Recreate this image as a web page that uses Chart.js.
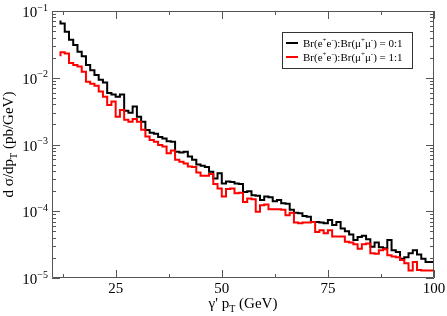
<!DOCTYPE html>
<html>
<head>
<meta charset="utf-8">
<script src="https://cdn.jsdelivr.net/npm/chart.js@4/dist/chart.umd.min.js"></script>
<style>
html, body { margin: 0; padding: 0; background: #fff; }
</style>
</head>
<body>
<canvas id="chart" width="447" height="316"></canvas>
<script>
// histogram bins: 1 GeV wide, first bin starts at 12 GeV
const binLowEdges = [];
for (let e = 12; e < 100; e++) {
    binLowEdges.push(e);
}
const lastBinHighEdge = 100;

// Br(e+e-):Br(mu+mu-) = 0:1
const blackValues = [
    7.2e-2, 6.5e-2, 4.9e-2, 3.7e-2, 3.1e-2, 2.45e-2, 2.1e-2, 1.55e-2, 1.3e-2, 1.1e-2,
    9.3e-3, 8.5e-3, 5.9e-3, 5.6e-3, 5.2e-3, 5.6e-3, 3.2e-3, 3.0e-3, 3.7e-3, 2.6e-3,
    2.2e-3, 1.65e-3, 1.5e-3, 1.45e-3, 1.3e-3, 1.23e-3, 1.12e-3, 1.1e-3, 7.8e-4, 7.6e-4,
    7.8e-4, 6.6e-4, 5.9e-4, 5.0e-4, 4.8e-4, 4.6e-4, 3.9e-4, 3.1e-4, 3.7e-4, 2.6e-4,
    2.8e-4, 2.75e-4, 2.6e-4, 2.55e-4, 1.95e-4, 2.0e-4, 1.74e-4, 1.7e-4, 1.48e-4, 1.66e-4,
    1.62e-4, 1.41e-4, 1.48e-4, 1.32e-4, 1.29e-4, 1.05e-4, 9.5e-5, 9.3e-5, 8.5e-5, 8.3e-5,
    6.9e-5, 6.9e-5, 6.8e-5, 6.6e-5, 7.4e-5, 6.2e-5, 6.9e-5, 5.5e-5, 5.0e-5, 4.5e-5,
    3.7e-5, 4.1e-5, 4.3e-5, 3.8e-5, 2.95e-5, 3.4e-5, 2.9e-5, 2.8e-5, 3.7e-5, 2.6e-5,
    2.45e-5, 1.95e-5, 2.05e-5, 2.35e-5, 2.6e-5, 2.25e-5, 1.95e-5, 1.74e-5
];

// Br(e+e-):Br(mu+mu-) = 1:1
const redValues = [
    2.1e-2, 2.4e-2, 2.3e-2, 1.66e-2, 1.55e-2, 1.48e-2, 1.23e-2, 8.7e-3, 8.1e-3, 7.6e-3,
    6.2e-3, 5.2e-3, 3.9e-3, 4.4e-3, 2.6e-3, 3.3e-3, 2.35e-3, 2.2e-3, 2.4e-3, 2.2e-3,
    1.66e-3, 1.32e-3, 1.17e-3, 1.1e-3, 9.8e-4, 9.3e-4, 7.4e-4, 8.1e-4, 5.9e-4, 5.5e-4,
    5.2e-4, 4.7e-4, 4.6e-4, 3.8e-4, 3.4e-4, 3.4e-4, 3.6e-4, 2.55e-4, 2.2e-4, 1.66e-4,
    2.15e-4, 2.2e-4, 1.86e-4, 1.9e-4, 1.38e-4, 1.55e-4, 1.51e-4, 9.8e-5, 1.23e-4, 1.26e-4,
    1.07e-4, 1.07e-4, 1.07e-4, 1.05e-4, 8.7e-5, 9.5e-5, 6.8e-5, 6.6e-5, 6.8e-5, 6.8e-5,
    6.9e-5, 4.9e-5, 5.2e-5, 4.7e-5, 5.2e-5, 4.2e-5, 4.2e-5, 4.2e-5, 3.5e-5, 3.4e-5,
    3.2e-5, 2.75e-5, 3.2e-5, 3.3e-5, 2.35e-5, 2.3e-5, 2.6e-5, 2.7e-5, 2.2e-5, 2.1e-5,
    2.05e-5, 1.86e-5, 1.66e-5, 1.29e-5, 1.74e-5, 1.32e-5, 1.29e-5, 1.29e-5
];

const xMajorTicks = [25, 50, 75, 100];
const xMinorTicks = [12.5, 37.5, 62.5, 87.5];
const yExponents = [-5, -4, -3, -2, -1];

const legendRatios = ["0:1", "1:1"];
const seriesColors = ["#000000", "#ff0000"];

const FONT = '"Liberation Serif", "DejaVu Serif", serif';

function toSteps(values) {
    const pts = values.map((v, i) => ({ x: binLowEdges[i], y: v }));
    pts.push({ x: lastBinHighEdge, y: values[values.length - 1] });
    return pts;
}

// draws text made of pieces, some raised or lowered
function richText(ctx, x, y, parts, size, align) {
    const small = Math.round(size * 0.68);
    let total = 0;
    parts.forEach((p) => {
        ctx.font = (p.s ? small : size) + "px " + FONT;
        p.w = ctx.measureText(p.t).width;
        total += p.w;
    });
    let cx = x;
    if (align === "center") cx = x - total / 2;
    if (align === "right") cx = x - total;
    ctx.textAlign = "left";
    ctx.textBaseline = "alphabetic";
    parts.forEach((p) => {
        ctx.font = (p.s ? small : size) + "px " + FONT;
        let dy = 0;
        if (p.s === "sup") dy = -size * 0.42;
        if (p.s === "sub") dy = size * 0.25;
        ctx.fillText(p.t, cx, y + dy);
        cx += p.w;
    });
}

const framePlugin = {
    id: "frame",
    afterDraw(chart) {
        const ctx = chart.ctx;
        const a = chart.chartArea;
        const xs = chart.scales.x;
        const ys = chart.scales.y;
        ctx.save();

        /* frame and ticks */
        ctx.strokeStyle = "#555";
        ctx.lineWidth = 1;
        ctx.beginPath();
        ctx.rect(a.left + 0.5, a.top + 0.5, a.right - a.left - 1, a.bottom - a.top - 1);
        ctx.stroke();

        ctx.beginPath();
        xMajorTicks.concat(xMinorTicks).forEach((v) => {
            const len = xMajorTicks.includes(v) ? 8 : 4;
            const px = Math.round(xs.getPixelForValue(v)) + 0.5;
            ctx.moveTo(px, a.bottom);
            ctx.lineTo(px, a.bottom - len);
            ctx.moveTo(px, a.top);
            ctx.lineTo(px, a.top + len);
        });
        yExponents.forEach((e) => {
            for (let m = 1; m < 10; m++) {
                if (e === -1 && m > 1) break;
                const py = Math.round(ys.getPixelForValue(m * Math.pow(10, e))) + 0.5;
                const len = m === 1 ? 8 : 4;
                ctx.moveTo(a.left, py);
                ctx.lineTo(a.left + len, py);
                ctx.moveTo(a.right, py);
                ctx.lineTo(a.right - len, py);
            }
        });
        ctx.stroke();

        /* tick labels */
        ctx.fillStyle = "#000";
        xMajorTicks.forEach((v) => {
            richText(ctx, xs.getPixelForValue(v), a.bottom + 15, [{ t: String(v) }], 15, "center");
        });
        yExponents.forEach((e) => {
            const py = ys.getPixelForValue(Math.pow(10, e));
            richText(ctx, a.left - 4, py + 6, [{ t: "10" }, { t: String(e).replace("-", "\u2212"), s: "sup" }], 15, "right");
        });

        /* axis titles */
        richText(ctx, (a.left + a.right) / 2, a.bottom + 30,
            [{ t: "\u03b3' p" }, { t: "T", s: "sub" }, { t: " (GeV)" }], 15, "center");

        ctx.save();
        ctx.translate(13, (a.top + a.bottom) / 2);
        ctx.rotate(-Math.PI / 2);
        richText(ctx, 0, 0, [{ t: "d \u03c3/dp" }, { t: "T", s: "sub" }, { t: " (pb/GeV)" }], 15, "center");
        ctx.restore();

        /* legend */
        const lx = 282, ly = 32, lw = 130, lh = 36;
        ctx.fillStyle = "#fff";
        ctx.fillRect(lx, ly, lw, lh);
        ctx.strokeStyle = "#333";
        ctx.strokeRect(lx + 0.5, ly + 0.5, lw, lh);
        legendRatios.forEach((r, i) => {
            const yy = ly + 11 + i * 14;
            ctx.strokeStyle = seriesColors[i];
            ctx.lineWidth = 2;
            ctx.beginPath();
            ctx.moveTo(lx + 4, yy);
            ctx.lineTo(lx + 16, yy);
            ctx.stroke();
            ctx.fillStyle = "#000";
            richText(ctx, lx + 21, yy + 4, [
                { t: "Br(e" }, { t: "+", s: "sup" }, { t: "e" }, { t: "-", s: "sup" },
                { t: "):Br(\u03bc" }, { t: "+", s: "sup" }, { t: "\u03bc" }, { t: "-", s: "sup" },
                { t: ") = " + r }
            ], 11, "left");
        });
        ctx.restore();
    }
};

new Chart(document.getElementById("chart"), {
    type: "line",
    data: {
        datasets: [
            {
                label: "0:1",
                data: toSteps(blackValues),
                borderColor: seriesColors[0],
                borderWidth: 2,
                stepped: "after",
                pointRadius: 0,
                fill: false,
                order: 2
            },
            {
                label: "1:1",
                data: toSteps(redValues),
                borderColor: seriesColors[1],
                borderWidth: 2,
                stepped: "after",
                pointRadius: 0,
                fill: false,
                order: 1
            }
        ]
    },
    options: {
        responsive: false,
        animation: false,
        devicePixelRatio: 1,
        layout: { padding: { left: 0, top: 11, right: 13, bottom: 0 } },
        plugins: {
            legend: { display: false },
            tooltip: { enabled: false }
        },
        scales: {
            x: {
                type: "linear",
                min: 10,
                max: 100,
                grid: { display: false },
                border: { display: false },
                ticks: { display: false },
                afterFit: (s) => { s.height = 38; }
            },
            y: {
                type: "logarithmic",
                min: 1e-5,
                max: 1e-1,
                grid: { display: false },
                border: { display: false },
                ticks: { display: false },
                afterFit: (s) => { s.width = 52; }
            }
        }
    },
    plugins: [framePlugin]
});
</script>
</body>
</html>
